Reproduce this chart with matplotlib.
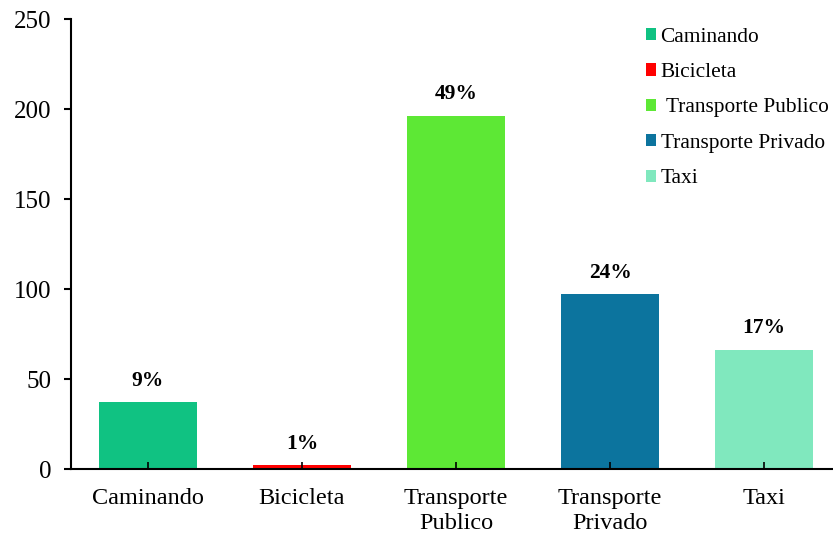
import matplotlib.pyplot as plt
from matplotlib.patches import Patch

# Data
categories = ['Caminando', 'Bicicleta', 'Transporte\nPublico', 'Transporte\nPrivado', 'Taxi']
legend_labels = ['Caminando', 'Bicicleta', ' Transporte Publico', 'Transporte Privado', 'Taxi']
values = [37, 2, 196, 97, 66]
percent_labels = ['9%', '1%', '49%', '24%', '17%']
colors = ['#10C282', '#FF0000', '#5DE835', '#0C749E', '#80E8BE']

plt.rcParams['font.family'] = ['Liberation Serif', 'DejaVu Serif']

fig = plt.figure(figsize=(8.33, 5.35), dpi=100)
ax = fig.add_axes([71 / 833, 66 / 535, 770 / 833, 450 / 535])

x = range(len(categories))
bars = ax.bar(x, values, width=0.636, color=colors)

for b, lab in zip(bars, percent_labels):
    ax.annotate(lab, (b.get_x() + b.get_width() / 2, b.get_height()),
                xytext=(0, 8.5), textcoords='offset points',
                ha='center', va='bottom', fontsize=15.5, fontweight='bold')

ax.set_xlim(-0.5, 4.5)
ax.set_ylim(0, 250)
ax.set_yticks([0, 50, 100, 150, 200, 250])
ax.set_xticks(list(x))
ax.set_xticklabels(categories, linespacing=1.22)

ax.spines['top'].set_visible(False)
ax.spines['right'].set_visible(False)
ax.spines['left'].set_linewidth(1.5)
ax.spines['bottom'].set_linewidth(1.5)
ax.tick_params(axis='y', direction='out', length=5, width=1.5, labelsize=18, pad=9)
ax.tick_params(axis='x', direction='in', length=5, width=1.2, labelsize=17.5, pad=14)

handles = [Patch(facecolor=c, edgecolor='none') for c in colors]
ax.legend(handles, legend_labels, loc='upper left', bbox_to_anchor=(637 / 833, 1 - 19 / 535),
          bbox_transform=fig.transFigure, frameon=False, fontsize=15.4,
          handlelength=0.5, handleheight=0.5, handletextpad=0.2,
          labelspacing=0.77, borderaxespad=0.0, borderpad=0.4)

fig.savefig('out.png', dpi=100)
